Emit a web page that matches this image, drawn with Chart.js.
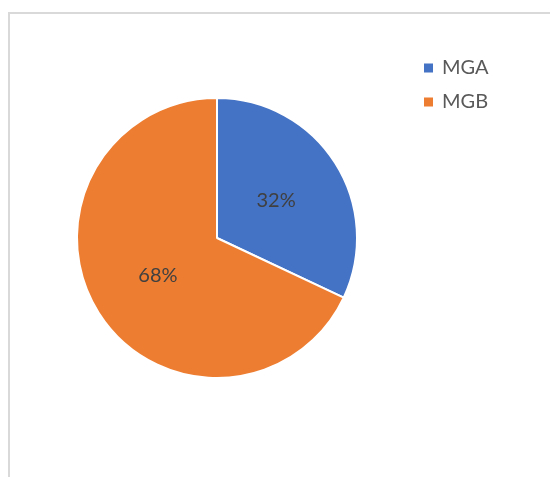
<!DOCTYPE html>
<html>
<head>
<meta charset="utf-8">
<script src="https://cdn.jsdelivr.net/npm/chart.js@4"></script>
<style>
  html, body { margin: 0; padding: 0; background: #fff; }
  #frame {
    position: absolute; left: 8px; top: 12px; width: 560px; height: 480px;
    border-top: 2px solid #d9d9d9; border-left: 2px solid #d9d9d9;
  }
  #wrap { position: absolute; left: 0; top: 0; width: 550px; height: 477px; }
</style>
</head>
<body>
<div id="frame"></div>
<div id="wrap"><canvas id="chart" width="550" height="477"></canvas></div>
<script>
// Pie data
const labels = ['MGA', 'MGB'];
const values = [32, 68];
const colors = ['#4472C4', '#ED7D31'];

const FONT = 'Lato, "Open Sans", sans-serif';

// percentage labels in the middle of each slice
const sliceLabels = {
  id: 'sliceLabels',
  afterDatasetsDraw(chart) {
    const ctx = chart.ctx;
    const meta = chart.getDatasetMeta(0);
    const total = values.reduce((a, b) => a + b, 0);
    ctx.save();
    ctx.font = '20px ' + FONT;
    ctx.fillStyle = '#404040';
    ctx.textAlign = 'center';
    ctx.textBaseline = 'middle';
    meta.data.forEach((arc, i) => {
      const p = arc.tooltipPosition();
      ctx.fillText(Math.round(values[i] / total * 100) + '%', p.x, p.y);
    });
    ctx.restore();
  }
};

// legend on the right
const sideLegend = {
  id: 'sideLegend',
  afterDraw(chart) {
    const ctx = chart.ctx;
    ctx.save();
    ctx.font = '20px ' + FONT;
    ctx.textBaseline = 'middle';
    labels.forEach((lab, i) => {
      const y = 68 + i * 34;
      ctx.fillStyle = colors[i];
      ctx.fillRect(424, y - 4.5, 9, 9);
      ctx.fillStyle = '#595959';
      ctx.fillText(lab, 442, y);
    });
    ctx.restore();
  }
};

new Chart(document.getElementById('chart'), {
  type: 'pie',
  data: {
    labels: labels,
    datasets: [{
      data: values,
      backgroundColor: colors,
      borderColor: '#ffffff',
      borderWidth: 2
    }]
  },
  options: {
    responsive: false,
    animation: false,
    layout: { padding: { left: 76, right: 192, top: 97, bottom: 98 } },
    plugins: {
      legend: { display: false },
      tooltip: { enabled: false }
    }
  },
  plugins: [sliceLabels, sideLegend]
});
</script>
</body>
</html>
